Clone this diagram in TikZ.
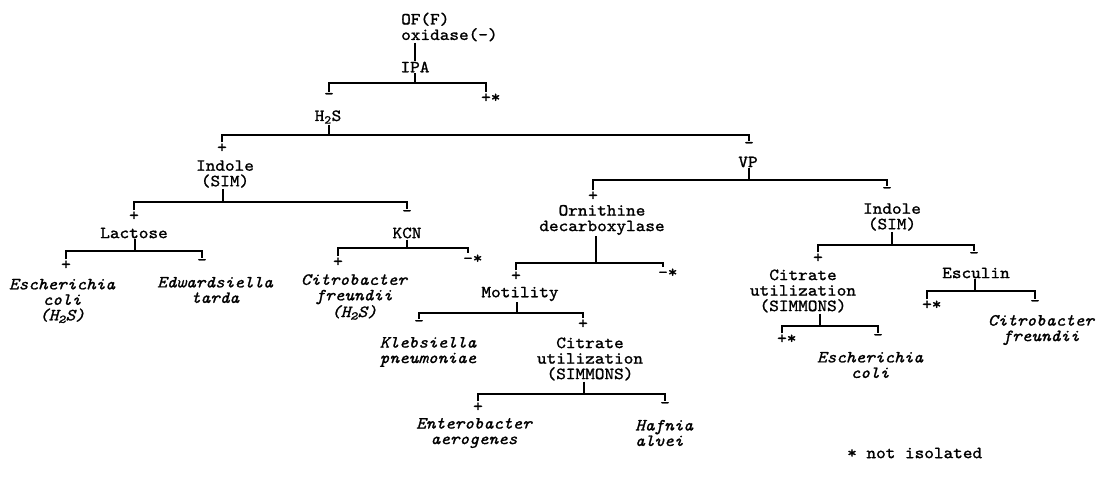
\documentclass[tikz,border=0pt]{standalone}
\usepackage{fontspec}
\setmonofont{lmmono10-regular.otf}[ItalicFont=lmmono10-italic.otf, FakeStretch=1.08, FakeBold=1.2]
\usepackage{tikz}

% fork: parent, junction, left sign, right sign
\newcommand{\fork}[4]{%
  \draw[link] (#2 |- #1.south) -- (#2);
  \draw[link] (#3.north) |- (#2) -| (#4.north);
}

\begin{document}
\begin{tikzpicture}[x=1pt, y=-1pt,
  every node/.style={font=\ttfamily\fontsize{17}{15.5}\selectfont, inner sep=1pt},
  test/.style={align=center},
  taxon/.style={align=center, font=\ttfamily\itshape\fontsize{17}{15.5}\selectfont},
  sgn/.style={inner sep=1pt},
  link/.style={line width=1.6pt}]
      \useasboundingbox (0,0) rectangle (1099,476);

      % Start
      \node[test, align=left, anchor=west] (top) at (400, 27) {OF(F)\\oxidase(-)};
      \node[test] (ipa) at (415, 67) {IPA};
      \node[sgn] (ipaneg) at (329, 96) {-};
      \node[sgn] (ipapos) at (486, 98) {+\rlap{*}};
      \coordinate (ipaj) at (415, 83);

      \node[test] (hs) at (328, 117) {H\textsubscript{2}S};
      \node[sgn] (hspos) at (222, 148) {+};
      \node[sgn] (hsneg) at (749, 145) {-};
      \coordinate (hsj) at (329, 135);

      % H2S positive side
      \node[test] (indA) at (225, 174) {Indole\\(SIM)};
      \node[sgn] (indApos) at (134, 216) {+};
      \node[sgn] (indAneg) at (407, 213) {-};
      \coordinate (indAj) at (223, 202);

      \node[test] (lac) at (134, 233) {Lactose};
      \node[sgn] (lacpos) at (66, 265) {+};
      \node[sgn] (lacneg) at (202, 262) {-};
      \coordinate (lacj) at (135, 251);

      \node[taxon] (ecoliA) at (62, 301) {Escherichia\\coli\\(H\textsubscript{2}S)};
      \node[taxon] (etarda) at (215, 290) {Edwardsiella\\tarda};

      \node[test] (kcn) at (407, 233) {KCN};
      \node[sgn] (kcnpos) at (338, 262) {+};
      \node[sgn] (kcnneg) at (468, 259) {-\rlap{*}};
      \coordinate (kcnj) at (407, 248);

      \node[taxon] (cfreuA) at (354, 297) {Citrobacter\\freundii\\(H\textsubscript{2}S)};

      % H2S negative side
      \node[test] (vp) at (748, 162) {VP};
      \node[sgn] (vppos) at (593, 196) {+};
      \node[sgn] (vpneg) at (887, 190) {-};
      \coordinate (vpj) at (749, 180);

      \node[test] (orn) at (602, 220) {Ornithine\\decarboxylase};
      \node[sgn] (ornpos) at (516, 276) {+};
      \node[sgn] (ornneg) at (663, 273) {-\rlap{*}};
      \coordinate (ornj) at (596, 263);

      \node[test] (mot) at (520, 294) {Motility};
      \node[sgn] (motneg) at (419, 323) {-};
      \node[sgn] (motpos) at (583, 324) {+};
      \coordinate (motj) at (517, 313);

      \node[taxon] (kpneu) at (428, 352) {Klebsiella\\pneumoniae};

      \node[test] (citA) at (590, 359) {Citrate\\utilization\\(SIMMONS)};
      \node[sgn] (citApos) at (478, 407) {+};
      \node[sgn] (citAneg) at (665, 405) {-};
      \coordinate (citAj) at (584, 394);

      \node[taxon] (eaero) at (474, 433) {Enterobacter\\aerogenes};
      \node[taxon, align=left, anchor=west] (halvei) at (634, 433) {Hafnia\\alvei};

      \node[test] (indB) at (892, 217) {Indole\\(SIM)};
      \node[sgn] (indBpos) at (818, 258) {+};
      \node[sgn] (indBneg) at (974, 255) {-};
      \coordinate (indBj) at (892, 245);

      \node[test] (citB) at (803, 291) {Citrate\\utilization\\(SIMMONS)};
      \node[sgn] (citBpos) at (782, 339) {+\rlap{*}};
      \node[sgn] (citBneg) at (878, 337) {-};
      \coordinate (citBj) at (820, 326);

      \node[taxon] (ecoliB) at (870, 365) {Escherichia\\coli};

      \node[test] (esc) at (976, 273) {Esculin};
      \node[sgn] (escpos) at (927, 305) {+\rlap{*}};
      \node[sgn] (escneg) at (1035, 303) {-};
      \coordinate (escj) at (975, 291);

      \node[taxon] (cfreuB) at (1041, 330) {Citrobacter\\freundii};

      % Footnote
      \node[anchor=west] (note) at (846, 453) {* not isolated};

      % Connectors
      \draw[link] (ipa.north |- top.south) -- (ipa.north);
      \fork{ipa}{ipaj}{ipaneg}{ipapos}
      \fork{hs}{hsj}{hspos}{hsneg}
      \fork{indA}{indAj}{indApos}{indAneg}
      \fork{lac}{lacj}{lacpos}{lacneg}
      \fork{kcn}{kcnj}{kcnpos}{kcnneg}
      \fork{vp}{vpj}{vppos}{vpneg}
      \fork{orn}{ornj}{ornpos}{ornneg}
      \fork{mot}{motj}{motneg}{motpos}
      \fork{citA}{citAj}{citApos}{citAneg}
      \fork{indB}{indBj}{indBpos}{indBneg}
      \fork{citB}{citBj}{citBpos}{citBneg}
      \fork{esc}{escj}{escpos}{escneg}
\end{tikzpicture}
\end{document}
